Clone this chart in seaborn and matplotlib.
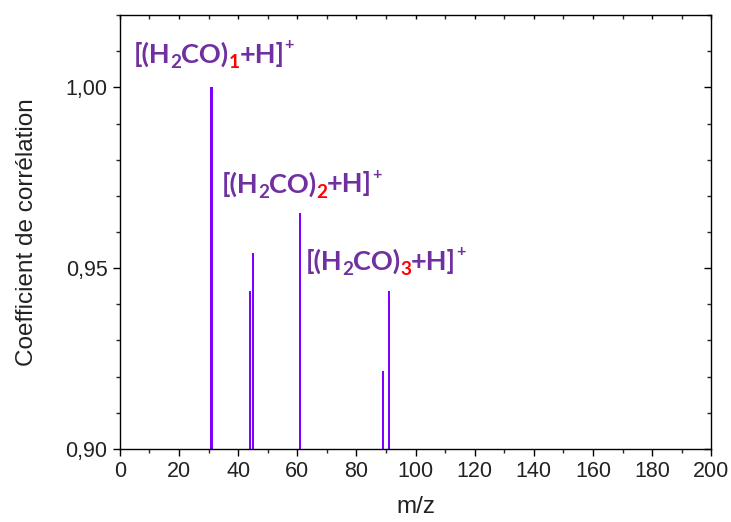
import matplotlib
matplotlib.use("Agg")
import matplotlib.pyplot as plt
import matplotlib.transforms as mtransforms
from matplotlib.ticker import MultipleLocator, FuncFormatter
import seaborn as sns

# data
mz = [31, 44, 45, 61, 89, 91]
corr = [1.000, 0.9437, 0.9541, 0.9652, 0.9215, 0.9437]

# cluster labels: (n, x anchor, baseline y)
cluster_n = [1, 2, 3]
label_x = [4.6, 34.3, 62.7]
label_y = [1.0068, 0.9710, 0.9495]

purple = "#7030A0"
bar_color = "#8000FF"

sns.set_theme(style="ticks")
plt.rcParams["font.family"] = ["Liberation Sans", "DejaVu Sans"]

fig = plt.figure(figsize=(7.31, 5.22), dpi=100)
ax = fig.add_axes([0.164, 0.140, 0.809, 0.831])

sns.barplot(x=mz, y=corr, native_scale=True, width=0.8, color=bar_color,
            linewidth=0, saturation=1, ax=ax)

ax.set_xlim(0, 200)
ax.set_ylim(0.90, 1.02)
ax.xaxis.set_major_locator(MultipleLocator(20))
ax.xaxis.set_minor_locator(MultipleLocator(10))
ax.yaxis.set_major_locator(MultipleLocator(0.05))
ax.yaxis.set_minor_locator(MultipleLocator(0.01))
ax.xaxis.set_major_formatter(FuncFormatter(lambda v, p: f"{v:.0f}"))
ax.yaxis.set_major_formatter(FuncFormatter(lambda v, p: f"{v:.2f}".replace(".", ",")))

for s in ax.spines.values():
    s.set_visible(True)
    s.set_color("black")
    s.set_linewidth(1.0)

ax.tick_params(axis="both", which="major", direction="out", length=5, width=1,
               labelsize=15.5, colors="black", labelcolor="#222222", pad=4)
ax.tick_params(axis="both", which="minor", direction="out", length=3, width=1)
ax.tick_params(top=True, right=True, which="both")
# inward ticks on the top and right spines
for t in ax.xaxis.get_major_ticks() + ax.xaxis.get_minor_ticks():
    t.tick2line.set_marker(matplotlib.lines.TICKDOWN)
    t.tick2line.set_markersize(3)
for t in ax.yaxis.get_major_ticks():
    t.tick2line.set_marker(matplotlib.lines.TICKLEFT)
    t.tick2line.set_markersize(5)
for t in ax.yaxis.get_minor_ticks():
    t.tick2line.set_marker(matplotlib.lines.TICKLEFT)
    t.tick2line.set_markersize(3)

ax.set_xlabel("m/z", fontsize=17.5, color="#222222", labelpad=10)
ax.set_ylabel("Coefficient de corrélation", fontsize=17.5, color="#222222", labelpad=20)
ax.grid(False)

# rich labels built piece by piece
renderer = fig.canvas.get_renderer()
size = 19.5
lab_font = ["Lato", "DejaVu Sans"]


def rich_label(x, y, n):
    pieces = [("[(H", purple, "n"), ("2", purple, "sub"), ("CO)", purple, "n"),
              (str(n), "red", "sub"), ("+H]", purple, "n"), ("+", purple, "sup")]
    dx = 0.0
    for txt, col, kind in pieces:
        fs = size
        dy = 0.0
        if kind == "sub":
            fs = size * 0.7
            dy = -0.2 * size
        elif kind == "sup":
            fs = size * 0.6
            dy = 0.5 * size
        tr = mtransforms.offset_copy(ax.transData, fig=fig, x=dx, y=dy, units="points")
        t = ax.text(x, y, txt, transform=tr, fontsize=fs, color=col,
                    fontweight="bold", family=lab_font, va="baseline", ha="left")
        w = t.get_window_extent(renderer=renderer).width
        dx += w * 72.0 / fig.dpi


for n, lx, ly in zip(cluster_n, label_x, label_y):
    rich_label(lx, ly, n)

fig.savefig("out.png", dpi=100)
